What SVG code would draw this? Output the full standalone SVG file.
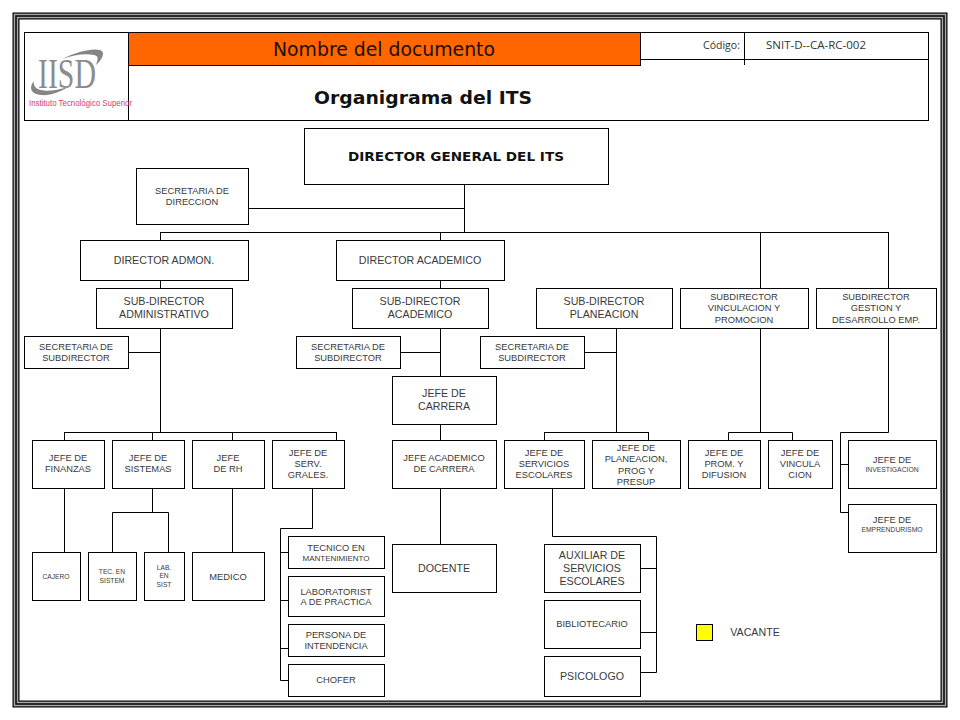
<svg xmlns="http://www.w3.org/2000/svg" width="960" height="720" viewBox="0 0 960 720">
<style>
.b{fill:#fff;stroke:#000;stroke-width:1}
text{font-family:"Liberation Sans",Arial,sans-serif;fill:#3a3a3a;text-anchor:middle}
.s7{font-size:6.67px}.s8{font-size:8px}.s9{font-size:9.33px}.s10{font-size:10.67px}
#connectors path{fill:none;stroke:#000;stroke-width:1}
</style>
<rect width="960" height="720" fill="#fff"/>
<g id="frame" fill="none">
<rect x="16" y="16" width="928" height="688" stroke="#000" stroke-width="7"/>
<rect x="16" y="16" width="928" height="688" stroke="#a8a8a8" stroke-width="4.600"/>
<rect x="16" y="16" width="928" height="688" stroke="#000" stroke-width="1.500"/>
</g>
<g id="header">
<rect x="24.500" y="32.500" width="904" height="88" fill="#fff" stroke="#000"/>
<rect x="128.500" y="32.500" width="512" height="33" fill="#ff6600" stroke="#000"/>
<path d="M128.500 65V120.500M640 59.500H928M744.500 32V65" fill="none" stroke="#000"/>
<text x="384" y="56" style="font-family:'DejaVu Sans',Verdana,sans-serif;font-size:20px;fill:#1a1008" textLength="222" lengthAdjust="spacingAndGlyphs">Nombre del documento</text>
<text x="423" y="104" style="font-family:'DejaVu Sans',Verdana,sans-serif;font-size:18px;font-weight:bold;fill:#111" textLength="218" lengthAdjust="spacingAndGlyphs">Organigrama del ITS</text>
<text x="721.500" y="49" style="font-family:'Open Sans',sans-serif;font-size:10.500px;fill:#333">Código:</text>
<text x="816" y="49" style="font-family:'Open Sans',sans-serif;font-size:10.500px;fill:#333" textLength="100" lengthAdjust="spacingAndGlyphs">SNIT-D--CA-RC-002</text>
</g>
<g id="logo">
<path d="M62 59C76 52 92 48 100 50C106 52 102 60 96 65C98 59 99 56 94 55C85 53 74 55 62 59Z" fill="#858585"/>
<path d="M34 81C29 87 30 94 41 95C50 96 60 92 68 87C58 90 47 92 41 90C36 89 33 86 34 81Z" fill="#858585"/>
<text x="67" y="88" style="font-family:'Liberation Serif',serif;font-size:42px;fill:#8c8c8c" textLength="58" lengthAdjust="spacingAndGlyphs">IISD</text>
<text x="80.500" y="105.500" style="font-size:8.800px;fill:#d63a72" textLength="103" lengthAdjust="spacingAndGlyphs">Instituto Tecnológico Superior</text>
</g>
<g id="connectors">
<path d="M464.500 184V232M248 208.500H464.500M160.500 232.500H888.500M160.500 232V240M440.500 232V240M760.500 232V288M888.500 232V288"/>
<path d="M160.500 280V288M160.500 328V432M128 352.500H160.500M64.500 432.500H336.500M64.500 432V440M152.500 432V440M232.500 432V440M336.500 432V440"/>
<path d="M440.500 280V288M440.500 328V376M400 352.500H440.500M440.500 424V440M440.500 488V544"/>
<path d="M616.500 328V432M584 352.500H616.500M544.500 432.500H648.500M544.500 432V440M648.500 432V440"/>
<path d="M552.500 488V536.500H656.500V672.500H640M640 568.500H656.500M640 632.500H656.500"/>
<path d="M64.500 488V552M152.500 488V512.500M112.500 552V512.500H168.500V552M232.500 488V552"/>
<path d="M312.500 488V528.500H280.500V680.500H288M280.500 552.500H288M280.500 600.500H288M280.500 648.500H288"/>
<path d="M760.500 328V432M728.500 440V432.500H792.500V440"/>
<path d="M888.500 328V432.500H840.500V512.500H848M840.500 464.500H848"/>
</g>
<g id="n-director-general"><rect class="b" x="304.500" y="128.500" width="304" height="56"/><text x="456" y="161" style="font-family:'DejaVu Sans',Verdana,sans-serif;font-size:11.500px;font-weight:bold;fill:#111" textLength="216" lengthAdjust="spacingAndGlyphs">DIRECTOR GENERAL DEL ITS</text></g>
<g id="n-secretaria-direccion"><rect class="b" x="136.500" y="168.500" width="112" height="56"/><text class="s9" x="192" y="194">SECRETARIA DE</text><text class="s9" x="192" y="205">DIRECCION</text></g>
<g id="n-director-admon"><rect class="b" x="80.500" y="240.500" width="168" height="40"/><text class="s10" x="164" y="264">DIRECTOR ADMON.</text></g>
<g id="n-director-academico"><rect class="b" x="336.500" y="240.500" width="168" height="40"/><text class="s10" x="420" y="264">DIRECTOR ACADEMICO</text></g>
<g id="n-sub-admin"><rect class="b" x="96.500" y="288.500" width="136" height="40"/><text class="s10" x="164" y="305">SUB-DIRECTOR</text><text class="s10" x="164" y="318">ADMINISTRATIVO</text></g>
<g id="n-sub-academico"><rect class="b" x="352.500" y="288.500" width="136" height="40"/><text class="s10" x="420" y="305">SUB-DIRECTOR</text><text class="s10" x="420" y="318">ACADEMICO</text></g>
<g id="n-sub-planeacion"><rect class="b" x="536.500" y="288.500" width="136" height="40"/><text class="s10" x="604" y="305">SUB-DIRECTOR</text><text class="s10" x="604" y="318">PLANEACION</text></g>
<g id="n-sub-vinculacion"><rect class="b" x="680.500" y="288.500" width="128" height="40"/><text class="s9" x="744" y="300">SUBDIRECTOR</text><text class="s9" x="744" y="311">VINCULACION Y</text><text class="s9" x="744" y="322.500">PROMOCION</text></g>
<g id="n-sub-gestion"><rect class="b" x="816.500" y="288.500" width="120" height="40"/><text class="s9" x="876" y="300">SUBDIRECTOR</text><text class="s9" x="876" y="311">GESTION  Y</text><text class="s9" x="876" y="322.500">DESARROLLO EMP.</text></g>
<g id="n-sec-sub-1"><rect class="b" x="24.500" y="336.500" width="104" height="32"/><text class="s9" x="76" y="350">SECRETARIA DE</text><text class="s9" x="76" y="361">SUBDIRECTOR</text></g>
<g id="n-sec-sub-2"><rect class="b" x="296.500" y="336.500" width="104" height="32"/><text class="s9" x="348" y="350">SECRETARIA DE</text><text class="s9" x="348" y="361">SUBDIRECTOR</text></g>
<g id="n-sec-sub-3"><rect class="b" x="480.500" y="336.500" width="104" height="32"/><text class="s9" x="532" y="350">SECRETARIA DE</text><text class="s9" x="532" y="361">SUBDIRECTOR</text></g>
<g id="n-jefe-carrera"><rect class="b" x="392.500" y="376.500" width="104" height="48"/><text class="s10" x="444" y="397">JEFE DE</text><text class="s10" x="444" y="410">CARRERA</text></g>
<g id="n-finanzas"><rect class="b" x="32.500" y="440.500" width="72" height="48"/><text class="s9" x="68" y="461">JEFE DE</text><text class="s9" x="68" y="472">FINANZAS</text></g>
<g id="n-sistemas"><rect class="b" x="112.500" y="440.500" width="72" height="48"/><text class="s9" x="148" y="461">JEFE DE</text><text class="s9" x="148" y="472">SISTEMAS</text></g>
<g id="n-rh"><rect class="b" x="192.500" y="440.500" width="72" height="48"/><text class="s9" x="228" y="461">JEFE</text><text class="s9" x="228" y="472">DE RH</text></g>
<g id="n-serv-grales"><rect class="b" x="272.500" y="440.500" width="72" height="48"/><text class="s9" x="308" y="455.500">JEFE DE</text><text class="s9" x="308" y="467">SERV.</text><text class="s9" x="308" y="478">GRALES.</text></g>
<g id="n-jefe-academico"><rect class="b" x="392.500" y="440.500" width="104" height="48"/><text class="s9" x="444" y="461">JEFE ACADEMICO</text><text class="s9" x="444" y="472">DE CARRERA</text></g>
<g id="n-serv-escolares"><rect class="b" x="504.500" y="440.500" width="80" height="48"/><text class="s9" x="544" y="455.500">JEFE DE</text><text class="s9" x="544" y="467">SERVICIOS</text><text class="s9" x="544" y="478">ESCOLARES</text></g>
<g id="n-planeacion"><rect class="b" x="592.500" y="440.500" width="88" height="48"/><text class="s9" x="636" y="451">JEFE DE</text><text class="s9" x="636" y="462">PLANEACION,</text><text class="s9" x="636" y="473.500">PROG Y</text><text class="s9" x="636" y="485">PRESUP</text></g>
<g id="n-prom"><rect class="b" x="688.500" y="440.500" width="72" height="48"/><text class="s9" x="724" y="455.500">JEFE DE</text><text class="s9" x="724" y="467">PROM. Y</text><text class="s9" x="724" y="478">DIFUSION</text></g>
<g id="n-vincula"><rect class="b" x="768.500" y="440.500" width="64" height="48"/><text class="s9" x="800" y="455.500">JEFE DE</text><text class="s9" x="800" y="467">VINCULA</text><text class="s9" x="800" y="478">CION</text></g>
<g id="n-investigacion"><rect class="b" x="848.500" y="440.500" width="88" height="48"/><text class="s9" x="892" y="463">JEFE DE</text><text x="892" y="471.500" style="font-size:6.800px">INVESTIGACION</text></g>
<g id="n-emprendurismo"><rect class="b" x="848.500" y="504.500" width="88" height="48"/><text class="s9" x="892" y="522.500">JEFE DE</text><text x="892" y="532" style="font-size:6.800px">EMPRENDURISMO</text></g>
<g id="n-cajero"><rect class="b" x="32.500" y="552.500" width="48" height="48"/><text class="s7" x="56" y="578.500">CAJERO</text></g>
<g id="n-tec-sistem"><rect class="b" x="88.500" y="552.500" width="48" height="48"/><text class="s7" x="112" y="574">TEC. EN</text><text class="s7" x="112" y="582.500">SISTEM</text></g>
<g id="n-lab-sist"><rect class="b" x="144.500" y="552.500" width="40" height="48"/><text class="s7" x="164" y="570">LAB.</text><text class="s7" x="164" y="578">EN</text><text class="s7" x="164" y="586.500">SIST</text></g>
<g id="n-medico"><rect class="b" x="192.500" y="552.500" width="72" height="48"/><text class="s9" x="228" y="579.500">MEDICO</text></g>
<g id="n-tecnico"><rect class="b" x="288.500" y="536.500" width="96" height="32"/><text class="s9" x="336" y="551">TECNICO EN</text><text class="s8" x="336" y="561">MANTENIMIENTO</text></g>
<g id="n-laboratorista"><rect class="b" x="288.500" y="576.500" width="96" height="40"/><text class="s9" x="336" y="594.500">LABORATORIST</text><text class="s9" x="336" y="605">A DE PRACTICA</text></g>
<g id="n-intendencia"><rect class="b" x="288.500" y="624.500" width="96" height="32"/><text class="s9" x="336" y="637.500">PERSONA DE</text><text class="s9" x="336" y="649">INTENDENCIA</text></g>
<g id="n-chofer"><rect class="b" x="288.500" y="664.500" width="96" height="32"/><text class="s9" x="336" y="683">CHOFER</text></g>
<g id="n-docente"><rect class="b" x="392.500" y="544.500" width="104" height="48"/><text class="s10" x="444" y="572">DOCENTE</text></g>
<g id="n-auxiliar"><rect class="b" x="544.500" y="544.500" width="96" height="48"/><text class="s10" x="592" y="559">AUXILIAR DE</text><text class="s10" x="592" y="572">SERVICIOS</text><text class="s10" x="592" y="585">ESCOLARES</text></g>
<g id="n-bibliotecario"><rect class="b" x="544.500" y="600.500" width="96" height="48"/><text class="s9" x="592" y="627">BIBLIOTECARIO</text></g>
<g id="n-psicologo"><rect class="b" x="544.500" y="656.500" width="96" height="40"/><text class="s10" x="592" y="680">PSICOLOGO</text></g>
<g id="legend"><rect x="696.500" y="624.500" width="16" height="16" fill="#ffff00" stroke="#000"/><text class="s10" x="755" y="636">VACANTE</text></g>
</svg>
